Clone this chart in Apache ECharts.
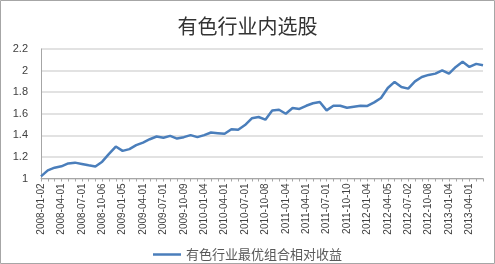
<!DOCTYPE html>
<html>
<head>
<meta charset="utf-8">
<script src="https://cdn.jsdelivr.net/npm/echarts@6/dist/echarts.min.js"></script>
<style>
html,body{margin:0;padding:0;background:#fff;}
#c{width:495px;height:264px;}
</style>
</head>
<body>
<div id="c"></div>
<script>
var titleText = '有色行业内选股';
var seriesName = '有色行业最优组合相对收益';
var categories = [
'2008-01-02','2008-02-01','2008-03-03','2008-04-01','2008-05-05','2008-06-02','2008-07-01','2008-08-01','2008-09-01','2008-10-06','2008-11-03','2008-12-01',
'2009-01-05','2009-02-02','2009-03-02','2009-04-01','2009-05-04','2009-06-01','2009-07-01','2009-08-03','2009-09-01','2009-10-09','2009-11-02','2009-12-01',
'2010-01-04','2010-02-01','2010-03-01','2010-04-01','2010-05-04','2010-06-01','2010-07-01','2010-08-02','2010-09-01','2010-10-08','2010-11-01','2010-12-01',
'2011-01-04','2011-02-01','2011-03-01','2011-04-01','2011-05-03','2011-06-01','2011-07-01','2011-08-01','2011-09-01','2011-10-10','2011-11-01','2011-12-01',
'2012-01-04','2012-02-01','2012-03-01','2012-04-05','2012-05-02','2012-06-01','2012-07-02','2012-08-01','2012-09-03','2012-10-08','2012-11-01','2012-12-03',
'2013-01-04','2013-02-01','2013-03-01','2013-04-01','2013-05-02','2013-06-03'
];
var values = [
1.02,1.075,1.10,1.113,1.14,1.147,1.135,1.123,1.112,1.156,1.228,1.296,
1.256,1.272,1.309,1.333,1.364,1.389,1.377,1.395,1.370,1.383,1.402,1.383,
1.402,1.426,1.420,1.414,1.457,1.451,1.495,1.558,1.570,1.545,1.631,1.637,
1.600,1.653,1.645,1.674,1.697,1.709,1.631,1.674,1.674,1.656,1.665,1.674,
1.672,1.705,1.746,1.839,1.895,1.848,1.833,1.900,1.941,1.960,1.972,2.003,
1.972,2.034,2.081,2.034,2.062,2.049
];
var yMin = 1, yMax = 2.2, yStep = 0.2;

var chart = echarts.init(document.getElementById('c'), null, {renderer:'canvas'});
chart.setOption({
  animation: false,
  backgroundColor: '#ffffff',
  textStyle: {fontFamily: '"Liberation Sans", "Noto Sans CJK SC", sans-serif'},
  title: {
    text: titleText,
    left: 'center',
    top: 11,
    textStyle: {fontSize: 20, fontWeight: 'normal', color: '#333333', fontFamily: '"Noto Sans CJK SC", sans-serif'}
  },
  graphic: [{
    type: 'rect',
    shape: {x: 0.5, y: 0.5, width: 494, height: 263},
    style: {fill: null, stroke: '#a6a6a6', lineWidth: 1},
    silent: true
  }],
  legend: {
    data: [seriesName],
    left: 'center',
    top: 243,
    icon: 'rect',
    itemWidth: 28,
    itemHeight: 2.5,
    itemGap: 4,
    textStyle: {fontSize: 13, color: '#595959', fontFamily: '"Noto Sans CJK SC", sans-serif'}
  },
  grid: {left: 41, right: 12, top: 49, bottom: 85.5, containLabel: false},
  xAxis: {
    type: 'category',
    data: categories,
    boundaryGap: false,
    axisLine: {lineStyle: {color: '#a6a6a6', width: 1}},
    axisTick: {show: true, interval: 0, length: 3, lineStyle: {color: '#a6a6a6'}},
    axisLabel: {interval: 2, rotate: 90, fontSize: 10, color: '#404040', margin: 5}
  },
  yAxis: {
    type: 'value',
    min: yMin, max: yMax, interval: yStep,
    axisLine: {show: true, lineStyle: {color: '#a6a6a6', width: 1}},
    axisTick: {show: false},
    axisLabel: {fontSize: 11, color: '#404040', margin: 13},
    splitLine: {lineStyle: {color: '#d9d9d9', width: 1.5}}
  },
  series: [{
    name: seriesName,
    type: 'line',
    data: values,
    showSymbol: false,
    symbol: 'none',
    lineStyle: {color: '#4a7ebb', width: 2.5},
    itemStyle: {color: '#4a7ebb'}
  }]
});
</script>
</body>
</html>
